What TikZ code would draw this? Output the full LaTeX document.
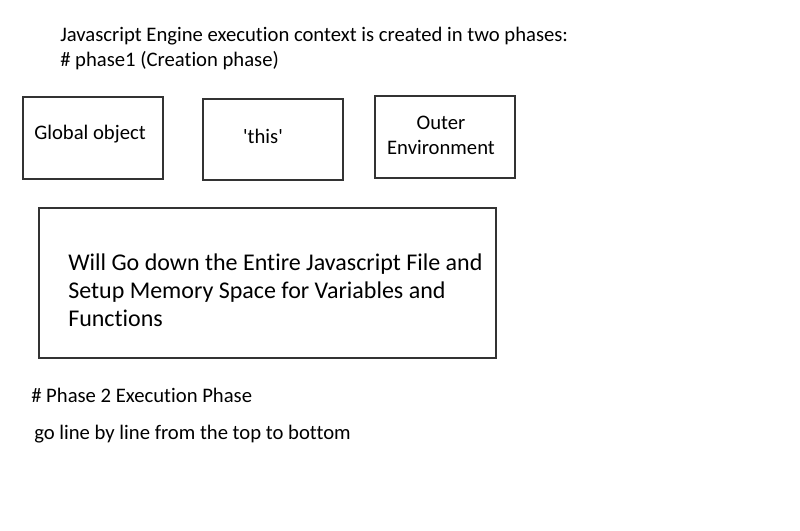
\documentclass[tikz,border=0pt]{standalone}
\usepackage{fontspec}
\setmainfont[Ligatures={TeXOff,NoCommon}]{Carlito}
\begin{document}
\begin{tikzpicture}[x=0.75pt,y=-0.75pt,
  box/.style={draw=black!80,line width=0.8pt},
  txt/.style={inner sep=0pt,anchor=west,font=\fontsize{15.5}{18.75}\selectfont},
  bigtxt/.style={inner sep=0pt,anchor=north west,align=left,font=\fontsize{18}{21}\selectfont}]
\useasboundingbox (0,0) rectangle (800,531);
\node[txt] (h1) at (60,36) {Javascript Engine execution context is created in two phases:};
\node[txt] (h2) at (60,61) {\# phase1 (Creation phase)};
\draw[box] (23,97) rectangle (163,179);
\node[txt] (g) at (34,134) {Global object};
\draw[box] (203,99) rectangle (343,180);
\node[txt,anchor=center] (t) at (263,136) {'this'};
\draw[box] (375,96) rectangle (515,178);
\node[txt,anchor=center,align=center] (o) at (441,135) {Outer\\Environment};
\draw[box] (39,208) rectangle (496,358);
\node[bigtxt] (w) at (68,254) {Will Go down the Entire Javascript File and\\Setup Memory Space for Variables and\\Functions};
\node[txt] (p2) at (31,395) {\# Phase 2 Execution Phase};
\node[txt] (l) at (34,434) {go line by line from the top to bottom};
\end{tikzpicture}
\end{document}
